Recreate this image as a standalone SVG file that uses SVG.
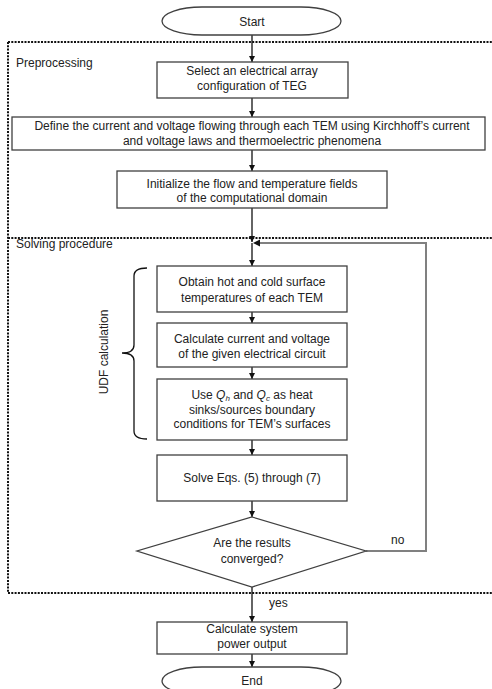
<svg xmlns="http://www.w3.org/2000/svg" width="492" height="689" viewBox="0 0 492 689">
<defs>
<style>
text{font-family:"Liberation Sans",Arial,sans-serif;font-size:12px;fill:#222;}
.c{text-anchor:middle;}
.box{fill:#fff;stroke:#404040;stroke-width:1.3;}
.dot{fill:none;stroke:#111;stroke-width:2;stroke-dasharray:2 1.3;}
.ln{fill:none;stroke:#111;stroke-width:1.3;}
.fb{fill:none;stroke:#808080;stroke-width:2;}
</style>
<marker id="ah" viewBox="0 0 10 10" refX="10" refY="5" markerWidth="6" markerHeight="6" markerUnits="userSpaceOnUse" orient="auto">
<path d="M0,0 L10,5 L0,10 z" fill="#111"/>
</marker>
</defs>
<rect width="492" height="689" fill="#fff"/>
<g id="regions">
<path class="dot" d="M8,42 H492 M8,238 H492 M8,593 H492 M8,42 V593"/>
<text x="16" y="67">Preprocessing</text>
<text x="16" y="248">Solving procedure</text>
</g>
<g id="connectors">
<path class="ln" d="M252,35 V62" marker-end="url(#ah)"/>
<path class="ln" d="M252,98 V117" marker-end="url(#ah)"/>
<path class="ln" d="M252,150 V171" marker-end="url(#ah)"/>
<path class="ln" d="M252,208 V242" marker-end="url(#ah)"/>
<path class="ln" d="M252,243 V266" marker-end="url(#ah)"/>
<path class="ln" d="M252,312 V323" marker-end="url(#ah)"/>
<path class="ln" d="M252,367 V379" marker-end="url(#ah)"/>
<path class="ln" d="M252,440 V455" marker-end="url(#ah)"/>
<path class="ln" d="M252,501 V517" marker-end="url(#ah)"/>
<path class="ln" d="M252,587 V622" marker-end="url(#ah)"/>
<path class="ln" d="M252,654 V667" marker-end="url(#ah)"/>
<path class="fb" d="M366,551 H426 V243 H256"/>
<path d="M253,243 L260,239.5 L260,246.5 z" fill="#111"/>
<text x="391" y="544">no</text>
<text x="269" y="607">yes</text>
</g>
<g id="start">
<rect class="box" x="162" y="7" width="179" height="28" rx="40" ry="14"/>
<text class="c" x="252" y="26">Start</text>
</g>
<g id="select">
<rect class="box" x="157" y="62" width="191" height="36"/>
<text class="c" x="252" y="75">Select an electrical array</text>
<text class="c" x="252" y="90">configuration of TEG</text>
</g>
<g id="define">
<rect class="box" x="12" y="117" width="473" height="33"/>
<text class="c" x="252" y="130">Define the current and voltage flowing through each TEM using Kirchhoff’s current</text>
<text class="c" x="252" y="145">and voltage laws and thermoelectric phenomena</text>
</g>
<g id="initialize">
<rect class="box" x="117" y="171" width="270" height="37"/>
<text class="c" x="252" y="188">Initialize the flow and temperature fields</text>
<text class="c" x="252" y="202">of the computational domain</text>
</g>
<g id="udf">
<path class="ln" d="M147,268 Q134,268 134,276 V345 Q134,353 122,353 Q134,353 134,361 V431 Q134,439 147,439" stroke="#555"/>
<text class="c" x="108" y="352" transform="rotate(-90 108 352)">UDF calculation</text>
</g>
<g id="obtain">
<rect class="box" x="157" y="266" width="190" height="46"/>
<text class="c" x="252" y="286">Obtain hot and cold surface</text>
<text class="c" x="252" y="302">temperatures of each TEM</text>
</g>
<g id="calccv">
<rect class="box" x="157" y="323" width="190" height="44"/>
<text class="c" x="252" y="343">Calculate current and voltage</text>
<text class="c" x="252" y="358">of the given electrical circuit</text>
</g>
<g id="useq">
<rect class="box" x="157" y="379" width="190" height="61"/>
<text class="c" x="252" y="399">Use <tspan font-style="italic">Q</tspan><tspan font-style="italic" font-size="8" dy="2">h</tspan><tspan dy="-2"> and </tspan><tspan font-style="italic">Q</tspan><tspan font-style="italic" font-size="8" dy="2">c</tspan><tspan dy="-2"> as heat</tspan></text>
<text class="c" x="252" y="414">sinks/sources boundary</text>
<text class="c" x="252" y="428">conditions for TEM’s surfaces</text>
</g>
<g id="solve">
<rect class="box" x="157" y="455" width="190" height="46"/>
<text class="c" x="252" y="482">Solve Eqs. (5) through (7)</text>
</g>
<g id="converged">
<polygon class="box" points="252,517 366,551 252,587 137,551"/>
<text class="c" x="252" y="547">Are the results</text>
<text class="c" x="252" y="563">converged?</text>
</g>
<g id="power">
<rect class="box" x="157" y="622" width="190" height="32"/>
<text class="c" x="252" y="633">Calculate system</text>
<text class="c" x="252" y="648">power output</text>
</g>
<g id="end">
<rect class="box" x="162" y="667" width="179" height="28" rx="40" ry="14"/>
<text class="c" x="252" y="685">End</text>
</g>
</svg>
